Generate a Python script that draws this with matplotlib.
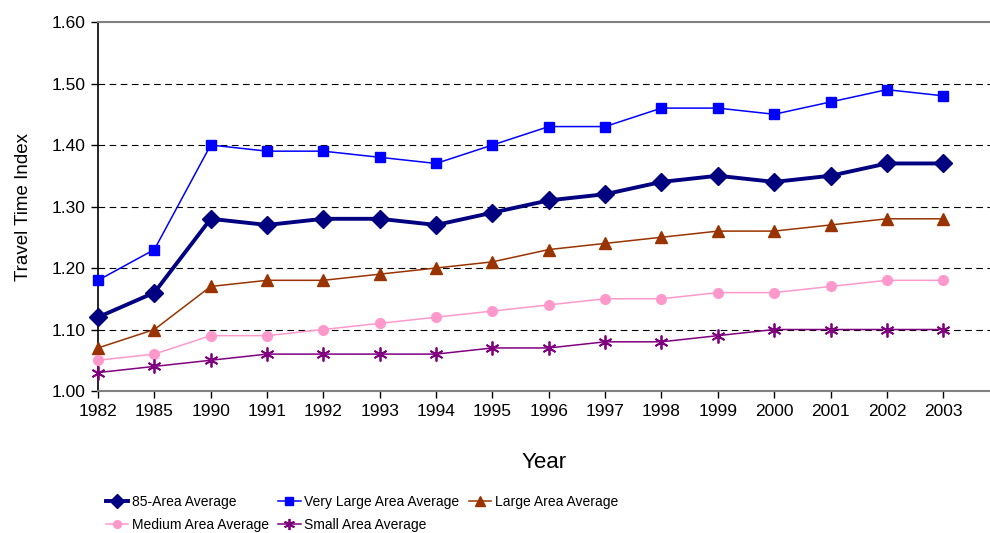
import matplotlib
matplotlib.use("Agg")
from matplotlib import pyplot as plt
import numpy as np

years = ['1982', '1985', '1990', '1991', '1992', '1993', '1994', '1995',
         '1996', '1997', '1998', '1999', '2000', '2001', '2002', '2003']

area85     = [1.12, 1.16, 1.28, 1.27, 1.28, 1.28, 1.27, 1.29, 1.31, 1.32, 1.34, 1.35, 1.34, 1.35, 1.37, 1.37]
very_large = [1.18, 1.23, 1.40, 1.39, 1.39, 1.38, 1.37, 1.40, 1.43, 1.43, 1.46, 1.46, 1.45, 1.47, 1.49, 1.48]
large      = [1.07, 1.10, 1.17, 1.18, 1.18, 1.19, 1.20, 1.21, 1.23, 1.24, 1.25, 1.26, 1.26, 1.27, 1.28, 1.28]
medium     = [1.05, 1.06, 1.09, 1.09, 1.10, 1.11, 1.12, 1.13, 1.14, 1.15, 1.15, 1.16, 1.16, 1.17, 1.18, 1.18]
small      = [1.03, 1.04, 1.05, 1.06, 1.06, 1.06, 1.06, 1.07, 1.07, 1.08, 1.08, 1.09, 1.10, 1.10, 1.10, 1.10]

yticks = [1.00, 1.10, 1.20, 1.30, 1.40, 1.50, 1.60]

plt.rcParams['font.family'] = ['Liberation Sans', 'DejaVu Sans']

fig = plt.figure(figsize=(9.9, 5.33), dpi=100)
ax = fig.add_axes([0.099, 0.2664, 0.901, 0.6923])

x = np.arange(len(years))

# dashed grid behind the lines
for v in yticks[1:-1]:
    ax.axhline(v, color='black', lw=0.8, dashes=(6, 4), zorder=1)

h1, = ax.plot(x, area85, color='#000080', lw=2.8, marker='D', ms=9,
              label='85-Area Average', zorder=5, clip_on=False)
h2, = ax.plot(x, very_large, color='#0000FF', lw=1.1, marker='s', ms=7,
              label='Very Large Area Average', zorder=4, clip_on=False)
h3, = ax.plot(x, large, color='#993300', lw=1.1, marker='^', ms=8.5,
              label='Large Area Average', zorder=4, clip_on=False)
h4, = ax.plot(x, medium, color='#FF99CC', lw=1.1, marker='o', ms=7,
              label='Medium Area Average', zorder=4, clip_on=False)
h5, = ax.plot(x, small, color='#800080', lw=1.1, marker=(6, 2, 0), ms=10,
              mew=1.3, label='Small Area Average', zorder=4, clip_on=False)

ax.set_xlim(0, 15.83)
ax.set_ylim(1.0, 1.6)
ax.set_yticks(yticks)
ax.set_yticklabels(['%.2f' % v for v in yticks], fontsize=12.5)
ax.set_xticks(x)
ax.set_xticklabels(years, fontsize=12.5)
ax.tick_params(direction='out', length=5, width=1, pad=4)

ax.spines['right'].set_visible(False)
ax.spines['top'].set_color('#808080')
ax.spines['top'].set_linewidth(1.5)
ax.spines['left'].set_linewidth(1.2)
ax.spines['bottom'].set_color('#808080')
ax.spines['bottom'].set_linewidth(1.5)

ax.set_xlabel('Year', fontsize=16, labelpad=24)
ax.set_ylabel('Travel Time Index', fontsize=13.5, labelpad=14)

# Legend laid out row by row like the original
handles = [h1, h4, h2, h5, h3]
fig.legend(handles, [h.get_label() for h in handles], ncol=3,
           loc='upper left', bbox_to_anchor=(0.100, 0.084),
           frameon=False, fontsize=10, handlelength=1.6,
           handletextpad=0.25, columnspacing=0.7, labelspacing=0.6,
           borderpad=0.0, markerscale=0.8)

fig.savefig('out.png', dpi=100)
